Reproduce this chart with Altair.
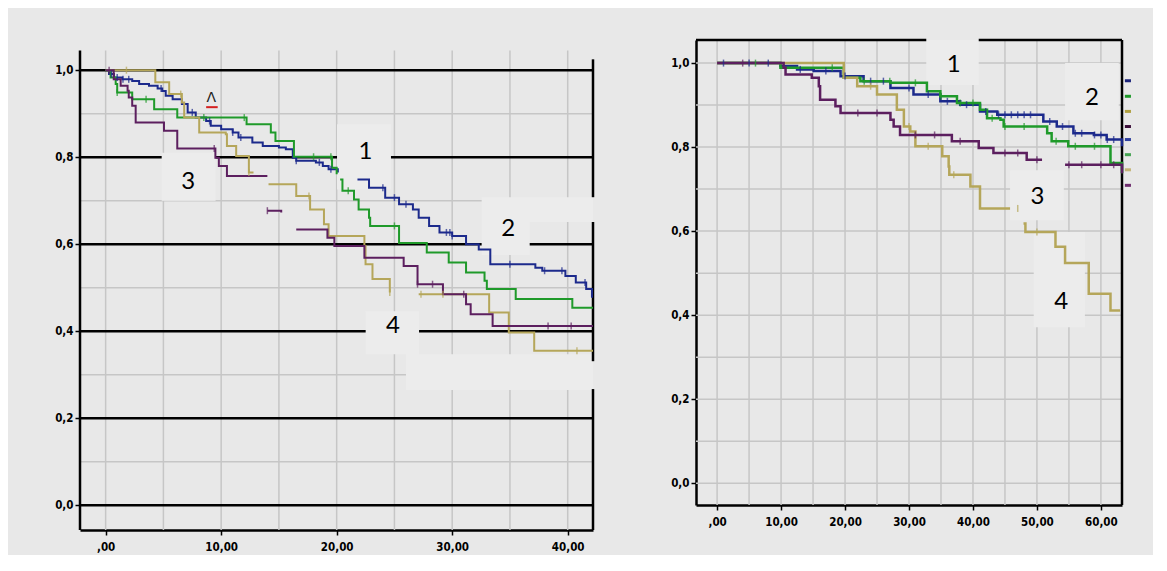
import altair as alt
import pandas as pd

# ---------------- data ----------------
# Left panel (None = visible break in the curve)
L_blue_t = [0, 0.29, 0.72, 1.44, 2.3, 2.9, 3.75, 4.5, 4.9, 5.2, 5.8, 6.6, 7.1, 7.8, 8.7, 9.1, 10.0, 11.0, 11.5, 12.7,
            13.6, 15.0, 15.6, 16.2, 16.5, 18.2, 18.8, 19.3, 20.1, None, 21.8, 22.8, 24.2, 25.4, 26.6, 27.1, 28.0,
            28.9, 30.0, 31.2, 32.3, 33.3, 35.8, 37.2, 37.8, 39.8, 40.7, 41.6, 42.1]
L_blue_s = [1.0, 0.991, 0.983, 0.979, 0.975, 0.968, 0.964, 0.958, 0.952, 0.941, 0.933, 0.922, 0.903, 0.891, 0.883,
            0.872, 0.864, 0.857, 0.845, 0.834, 0.826, 0.822, 0.818, 0.799, 0.792, 0.788, 0.780, 0.772, 0.765, None,
            0.749, 0.730, 0.707, 0.692, 0.680, 0.661, 0.642, 0.627, 0.619, 0.600, 0.588, 0.554, 0.554, 0.546, 0.539,
            0.527, 0.512, 0.497, 0.477]
L_green_t = [0, 0.43, 0.87, 1.0, 2.3, 4.2, 6.2, 12.2, 14.3, 14.7, 16.3, 19.6, 20.0, None, 20.3, 20.5, 21.5, 21.9,
             22.8, 22.9, 25.4, 27.8, 29.7, 31.2, 32.8, 33.0, 35.5, 40.4, 42.19]
L_green_s = [1.0, 0.983, 0.968, 0.949, 0.933, 0.910, 0.891, 0.876, 0.857, 0.837, 0.801, 0.776, 0.761, None, 0.749,
             0.723, 0.703, 0.680, 0.661, 0.642, 0.603, 0.581, 0.558, 0.535, 0.516, 0.497, 0.474, 0.454, 0.454]
L_olive_t = [0, 4.3, 5.5, 6.6, 6.8, 8.1, 10.4, 10.5, 11.3, 12.4, 12.8, None, 14.1, 16.5, 17.7, 18.9, 19.3, 22.4,
             22.5, 23.1, 24.6, None, 27.1, 33.2, 34.9, 37.1, 42.19]
L_olive_s = [1.0, 0.972, 0.945, 0.926, 0.891, 0.857, 0.853, 0.826, 0.803, 0.765, 0.765, None, 0.738, 0.711, 0.680,
             0.646, 0.619, 0.596, 0.554, 0.520, 0.489, None, 0.485, 0.443, 0.397, 0.355, 0.355]
L_purple_t = [0, 0.7, 1.3, 1.9, 2.0, 2.3, 2.6, 5.05, 6.2, 9.5, 9.8, 10.5, 14.0, None, 14.0, 15.2, None, 16.5, 19.2,
              19.8, 22.4, 25.8, 27.0, 29.2, 31.2, 31.6, 33.5, 42.19]
L_purple_s = [1.0, 0.979, 0.964, 0.953, 0.937, 0.918, 0.880, 0.861, 0.820, 0.799, 0.780, 0.757, 0.757, None, 0.677,
              0.673, None, 0.634, 0.615, 0.596, 0.569, 0.550, 0.508, 0.485, 0.462, 0.439, 0.412, 0.412]

L_blue_cens = [0.5, 1.0, 1.5, 2.0, 4.8, 7.5, 9.0, 11.0, 11.7, 16.5, 18.5, 19.5, 24.0, 25.0, 26.0, 29.5, 29.8,
               30.0, 35.0, 38.0, 39.5, 41.5]
L_green_cens = [1.0, 3.5, 8.5, 12.0, 18.0, 19.5, 21.0, 25.0]
L_olive_cens = [1.8, 6.5, 12.4, 17.6, 24.6, 27.3, 29.2, 40.8]
L_purple_cens = [0.3, 9.4, 14.0, 27.0, 28.3, 31.0, 38.3, 40.3]

# Right panel
R_blue_t = [0, 9.9, 12.5, 15.1, 19.3, 22.9, 27.1, 30.7, 34.9, 38.0, 41.1, 43.8, 51.0, 53.1, 55.7, 58.9, 60.9, 63.3]
R_blue_s = [1.0, 0.993, 0.985, 0.981, 0.969, 0.957, 0.941, 0.925, 0.909, 0.901, 0.885, 0.877, 0.861, 0.849, 0.833,
            0.829, 0.818, 0.802]
R_green_t = [0, 9.9, 19.8, 22.4, 27.1, 32.8, 34.9, 37.5, 41.1, 42.2, 44.3, 44.8, 51.6, 52.3, 54.9, 61.5, 63.3]
R_green_s = [1.0, 0.989, 0.965, 0.957, 0.953, 0.933, 0.921, 0.905, 0.889, 0.869, 0.865, 0.849, 0.833, 0.814, 0.802,
             0.762, 0.738]
R_olive_t = [0, 19.8, 21.9, 25.0, 28.1, 29.2, 30.2, 31.0, 35.2, 36.2, 36.3, 39.6, 41.1, 45.8, None, 47.9, 48.2,
             52.9, 54.4, 58.1, 61.5, 63.0]
R_olive_s = [1.0, 0.965, 0.945, 0.925, 0.889, 0.849, 0.837, 0.802, 0.778, 0.754, 0.734, 0.706, 0.654, 0.654, None,
             0.618, 0.598, 0.563, 0.524, 0.451, 0.411, 0.411]
R_purple_t = [0, 10.4, 10.7, 14.8, 15.9, 16.1, 18.5, 19.3, 27.1, 27.6, 28.6, 36.7, 40.9, 43.2, 48.4, 50.8, None,
              54.4, 62.5, 63.3]
R_purple_s = [1.0, 0.989, 0.973, 0.965, 0.945, 0.913, 0.897, 0.881, 0.865, 0.849, 0.829, 0.814, 0.798, 0.786,
              0.770, 0.770, None, 0.758, 0.758, 0.738]

R_blue_cens = [1, 5, 8, 13, 17, 20, 24, 26, 30, 33, 36, 39, 42, 44, 45, 46, 47, 48, 49, 52, 54, 56,
               57, 59, 60, 61, 62]
R_green_cens = [6, 18, 23, 27, 31, 35, 38, 40, 43, 45, 48, 53, 56, 59]
R_olive_cens = [24, 30, 33, 37, 47, 50]
R_purple_cens = [4, 22, 25, 31, 34, 38, 45, 47, 50, 55, 57, 60, 62]

# text labels
L_lab_text = ["1", "2", "3", "4"]
L_lab_x = [22.5, 34.86, 7.15, 24.87]
L_lab_y = [0.812, 0.634, 0.742, 0.411]
R_lab_text = ["1", "2", "3", "4"]
R_lab_x = [36.98, 58.6, 50.1, 53.8]
R_lab_y = [0.995, 0.918, 0.682, 0.432]

legend_y = [0.958, 0.921, 0.885, 0.849, 0.818, 0.782, 0.746, 0.709]
legend_c = ["#1b237a", "#1f9a2a", "#b0a040", "#3b0f3a", "#2e3f9e", "#45a352", "#c4b577", "#6e2d6e"]

L_colors = {"blue": "#1c2a8c", "green": "#1f9a2a", "olive": "#b5a65a", "purple": "#5c1f5f"}
R_colors = {"blue": "#1b237a", "green": "#1e8c26", "olive": "#a39028", "purple": "#3a0d3a"}

BG = "#e8e8e8"
PATCH = "#ececec"
GRID = "#c6c6c6"
TICK_FONT = "Liberation Sans Narrow, DejaVu Sans Condensed, Liberation Sans, sans-serif"

L_X = [-2.22, 42.19]
L_Y = [-0.057, 1.0694]
R_X = [-3.3, 63.3]
R_Y = [-0.052, 1.055]


def curve_rows(t, s, name):
    rows, seg = [], 0
    for a, b in zip(t, s):
        if a is None:
            seg += 1
            continue
        rows.append({"t": a, "s": b, "series": name, "seg": f"{name}-{seg}"})
    return rows


def lookup(t, s, c):
    val = None
    for a, b in zip(t, s):
        if a is None:
            continue
        if a <= c:
            val = b
    return val


def cens_rows(t, s, cens, name):
    return [{"t": c, "s": lookup(t, s, c), "series": name} for c in cens]


FMT_X = "datum.value == 0 ? ',00' : replace(format(datum.value, '.2f'), '.', ',')"
FMT_Y = "replace(format(datum.value, '.1f'), '.', ',')"


def build_panel(series, cens, colors, xd, yd, w, h, xticks, vgrid, hgrid, patches, blacks, border_v,
                labels, ydomain_axis, extra_layers, lw):
    xs = alt.Scale(domain=xd, nice=False, zero=False)
    ys = alt.Scale(domain=yd, nice=False, zero=False)
    xa = alt.Axis(values=xticks, labelExpr=FMT_X, title=None, grid=False, labelPadding=6, labelFontSize=11.5)
    ya = alt.Axis(values=[0, 0.2, 0.4, 0.6, 0.8, 1.0], labelExpr=FMT_Y, title=None, grid=False,
                  domain=ydomain_axis, labelPadding=2, labelFontSize=11.5)
    names = list(colors.keys())
    cs = alt.Scale(domain=names, range=[colors[n] for n in names])

    def X(f):
        return alt.X(f, scale=xs, axis=xa)

    def Y(f):
        return alt.Y(f, scale=ys, axis=ya)

    grid = alt.Chart(pd.DataFrame(vgrid + hgrid)).mark_rule(color=GRID, strokeWidth=1.5).encode(
        x=X("x:Q"), x2="x2:Q", y=Y("y:Q"), y2="y2:Q")
    patch = alt.Chart(pd.DataFrame(patches)).mark_rect(color=PATCH, clip=True).encode(
        x=X("x:Q"), x2="x2:Q", y=Y("y:Q"), y2="y2:Q")
    layers = [grid, patch]
    if blacks:
        layers.append(alt.Chart(pd.DataFrame(blacks)).mark_rule(color="black", strokeWidth=2.5).encode(
            x=X("x:Q"), x2="x2:Q", y=Y("y:Q"), y2="y2:Q"))
    layers.append(alt.Chart(pd.DataFrame(border_v)).mark_rule(color="black", strokeWidth=2.5).encode(
        x=X("x:Q"), x2="x2:Q", y=Y("y:Q"), y2="y2:Q"))

    curves = alt.Chart(pd.DataFrame(series)).mark_line(interpolate="step-after", strokeWidth=lw).encode(
        x=X("t:Q"), y=Y("s:Q"),
        color=alt.Color("series:N", scale=cs, legend=None),
        detail="seg:N")
    layers.append(curves)
    layers.append(alt.Chart(pd.DataFrame(cens)).mark_tick(orient="vertical", size=7, thickness=1.5).encode(
        x=X("t:Q"), y=Y("s:Q"),
        color=alt.Color("series:N", scale=cs, legend=None)))
    layers.append(alt.Chart(pd.DataFrame(labels)).mark_text(
        font="Lato", fontSize=24, color="#000000", baseline="middle", align="center").encode(
        x=X("x:Q"), y=Y("y:Q"), text="text:N"))
    for lay in extra_layers:
        layers.append(lay(X, Y))
    return alt.layer(*layers).properties(width=w, height=h)


# ---------- left panel ----------
L_series = (curve_rows(L_blue_t, L_blue_s, "blue") + curve_rows(L_green_t, L_green_s, "green")
            + curve_rows(L_olive_t, L_olive_s, "olive") + curve_rows(L_purple_t, L_purple_s, "purple"))
L_cens = (cens_rows(L_blue_t, L_blue_s, L_blue_cens, "blue") + cens_rows(L_green_t, L_green_s, L_green_cens, "green")
          + cens_rows(L_olive_t, L_olive_s, L_olive_cens, "olive")
          + cens_rows(L_purple_t, L_purple_s, L_purple_cens, "purple"))
L_top = 1.045
L_vgrid = [{"x": v, "x2": v, "y": L_Y[0], "y2": L_top} for v in range(0, 45, 5)]
L_hgrid = [{"x": L_X[0], "x2": L_X[1], "y": v, "y2": v} for v in [0.1, 0.3, 0.5, 0.7, 0.9]]
L_patches = [
    {"x": 20.03, "x2": 24.7, "y": 0.726, "y2": 0.876},
    {"x": 32.55, "x2": 42.19, "y": 0.651, "y2": 0.708},
    {"x": 32.55, "x2": 36.71, "y": 0.575, "y2": 0.651},
    {"x": 4.85, "x2": 9.52, "y": 0.70, "y2": 0.81},
    {"x": 22.5, "x2": 27.13, "y": 0.347, "y2": 0.446},
    {"x": 26.0, "x2": 42.19, "y": 0.265, "y2": 0.347},
]
L_blacks = [
    {"x": L_X[0], "x2": L_X[1], "y": 1.0, "y2": 1.0},
    {"x": L_X[0], "x2": 4.85, "y": 0.8, "y2": 0.8},
    {"x": 9.52, "x2": 20.03, "y": 0.8, "y2": 0.8},
    {"x": 24.7, "x2": L_X[1], "y": 0.8, "y2": 0.8},
    {"x": L_X[0], "x2": 32.55, "y": 0.6, "y2": 0.6},
    {"x": 36.71, "x2": L_X[1], "y": 0.6, "y2": 0.6},
    {"x": L_X[0], "x2": 22.51, "y": 0.4, "y2": 0.4},
    {"x": 27.13, "x2": L_X[1], "y": 0.4, "y2": 0.4},
    {"x": L_X[0], "x2": L_X[1], "y": 0.2, "y2": 0.2},
    {"x": L_X[0], "x2": L_X[1], "y": 0.0, "y2": 0.0},
]
L_border = [
    {"x": L_X[0], "x2": L_X[0], "y": L_Y[0], "y2": L_top},
    {"x": L_X[1], "x2": L_X[1], "y": 0.708, "y2": 1.025},
    {"x": L_X[1], "x2": L_X[1], "y": 0.331, "y2": 0.651},
    {"x": L_X[1], "x2": L_X[1], "y": L_Y[0], "y2": 0.267},
]
L_labels = [{"x": a, "y": b, "text": c} for a, b, c in zip(L_lab_x, L_lab_y, L_lab_text)]


def caret_layer(X, Y):
    t = alt.Chart(pd.DataFrame([{"x": 9.15, "y": 0.935, "text": "Λ"}])).mark_text(
        font="DejaVu Sans", fontSize=14, color="#222222", baseline="middle").encode(
        x=X("x:Q"), y=Y("y:Q"), text="text:N")
    r = alt.Chart(pd.DataFrame([{"x": 8.7, "x2": 9.7, "y": 0.915, "y2": 0.915}])).mark_rule(
        color="#d42020", strokeWidth=2).encode(x=X("x:Q"), x2="x2:Q", y=Y("y:Q"), y2="y2:Q")
    return alt.layer(t, r)


left = build_panel(L_series, L_cens, L_colors, L_X, L_Y, 513, 490, [0, 10, 20, 30, 40],
                   L_vgrid, L_hgrid, L_patches, L_blacks, L_border, L_labels, False, [caret_layer], 2)

# ---------- right panel ----------
R_series = (curve_rows(R_blue_t, R_blue_s, "blue") + curve_rows(R_green_t, R_green_s, "green")
            + curve_rows(R_olive_t, R_olive_s, "olive") + curve_rows(R_purple_t, R_purple_s, "purple"))
R_cens = (cens_rows(R_blue_t, R_blue_s, R_blue_cens, "blue") + cens_rows(R_green_t, R_green_s, R_green_cens, "green")
          + cens_rows(R_olive_t, R_olive_s, R_olive_cens, "olive")
          + cens_rows(R_purple_t, R_purple_s, R_purple_cens, "purple"))
R_vgrid = [{"x": v, "x2": v, "y": R_Y[0], "y2": R_Y[1]} for v in range(0, 65, 5)]
R_hgrid = [{"x": R_X[0], "x2": R_X[1], "y": v / 10, "y2": v / 10} for v in range(0, 11)]
R_patches = [
    {"x": 32.7, "x2": 40.9, "y": 0.948, "y2": R_Y[1]},
    {"x": 54.4, "x2": 62.8, "y": 0.864, "y2": 1.0},
    {"x": 45.8, "x2": 54.2, "y": 0.626, "y2": 0.745},
    {"x": 49.5, "x2": 57.5, "y": 0.371, "y2": 0.598},
]
R_border = [
    {"x": R_X[1], "x2": R_X[1], "y": R_Y[0], "y2": R_Y[1]},
    {"x": R_X[0], "x2": 32.7, "y": R_Y[1], "y2": R_Y[1]},
    {"x": 40.9, "x2": R_X[1], "y": R_Y[1], "y2": R_Y[1]},
]
R_labels = [{"x": a, "y": b, "text": c} for a, b, c in zip(R_lab_x, R_lab_y, R_lab_text)]


def legend_layer(X, Y):
    df = pd.DataFrame({"x": [63.75] * len(legend_y), "x2": [64.7] * len(legend_y), "y": legend_y, "c": legend_c})
    return alt.Chart(df).mark_rule(strokeWidth=3).encode(
        x=X("x:Q"), x2="x2:Q", y=Y("y:Q"), color=alt.Color("c:N", scale=None))


right = build_panel(R_series, R_cens, R_colors, R_X, R_Y, 426, 465, [0, 10, 20, 30, 40, 50, 60],
                    R_vgrid, R_hgrid, R_patches, [], R_border, R_labels, True, [legend_layer], 2.5)

chart = alt.hconcat(left, right, spacing=103, bounds="flush").properties(
    padding={"left": 46, "top": 30, "right": 20, "bottom": 2}
).configure(background=BG).configure_view(stroke=None).configure_axis(
    domainColor="black", domainWidth=2.5, tickColor="black", tickWidth=1.5, tickSize=5,
    labelFont=TICK_FONT, labelFontWeight="bold", labelFontSize=11.5, labelColor="black", labelPadding=3
)

chart.save("out.html", embed_options={"renderer": "svg", "actions": False})
